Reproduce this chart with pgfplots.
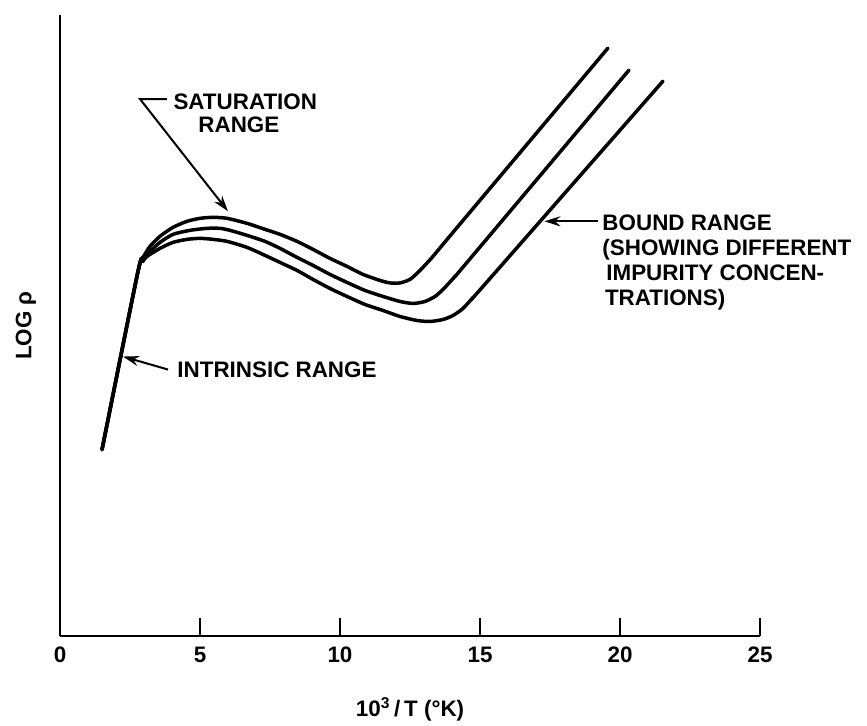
\documentclass[border=0pt]{standalone}
\usepackage{fontspec}
\setmainfont{Liberation Sans}
\usepackage{pgfplots}
\pgfplotsset{compat=1.18}
\usetikzlibrary{arrows.meta}
\tikzset{lbl/.style={font=\bfseries\fontsize{11.2}{13}\selectfont, inner sep=0pt}}
\begin{document}
\begin{tikzpicture}
\useasboundingbox (0,0) rectangle (433.5pt,363pt);
\begin{axis}[
  at={(30pt,45pt)}, anchor=south west,
  scale only axis, width=350pt, height=310.5pt,
  xmin=0, xmax=25, ymin=0, ymax=62,
  axis x line=bottom, axis y line=left,
  axis line style={-, line width=1.4pt},
  xtick={0,5,10,15,20,25}, ytick=\empty,
  tick align=inside, major tick length=9pt,
  tick style={line width=1.4pt, black},
  /pgf/number format/assume math mode=true,
  ticklabel style={font=\bfseries\fontsize{11.2}{13}\selectfont},
  xticklabel style={yshift=-2pt},
  xlabel={10\textsuperscript{3}\,/\,T (°K)},
  ylabel={LOG ρ},
  label style={font=\bfseries\fontsize{11.2}{13}\selectfont},
  xlabel style={at={(axis description cs:0.5,-0.1176)}, anchor=center},
  ylabel style={at={(axis description cs:-0.0486,0.5)}, anchor=center},
  clip=false,
]
% top curve
\addplot[line width=1.75pt, black, line join=round, line cap=round, smooth, tension=0.4] coordinates {
(1.500,18.6) (2.786,36.4) (2.929,37.6) (3.214,38.9) (3.571,39.9) (4.036,40.8)
(4.536,41.4) (5.000,41.7) (5.464,41.8) (5.964,41.7) (6.679,41.2) (7.321,40.6)
(7.857,40.1) (8.464,39.4) (9.036,38.6) (9.643,37.7) (10.250,36.9) (10.821,36.1)
(11.429,35.5) (11.786,35.25) (12.143,35.25) (12.500,35.6) (12.857,36.5) (13.321,37.9)
(14.036,40.3) (19.571,58.7)
};
% middle curve
\addplot[line width=1.75pt, black, line join=round, line cap=round, smooth, tension=0.4] coordinates {
(1.500,18.6) (2.786,36.4) (3.036,37.8) (3.214,38.4) (3.571,39.3) (4.036,40.1)
(4.643,40.5) (5.250,40.7) (5.714,40.7) (6.071,40.5) (6.679,40.0) (7.321,39.4)
(7.857,38.7) (8.464,37.8) (9.036,37.0) (9.643,36.1) (10.250,35.3) (10.893,34.5)
(11.536,33.9) (12.143,33.4) (12.607,33.2) (13.036,33.4) (13.393,33.9) (13.679,34.6)
(14.107,35.9) (14.536,37.3) (20.321,56.5)
};
% bottom curve
\addplot[line width=1.75pt, black, line join=round, line cap=round, smooth, tension=0.4] coordinates {
(1.500,18.6) (2.786,36.4) (2.964,37.4) (3.107,37.9) (3.571,38.7) (4.036,39.3)
(4.536,39.6) (5.000,39.7) (5.464,39.6) (5.964,39.4) (6.679,38.8) (7.321,38.0)
(7.857,37.3) (8.464,36.5) (9.036,35.6) (9.643,34.7) (10.250,33.9) (10.893,33.1)
(11.536,32.5) (12.143,31.9) (12.750,31.5) (13.214,31.4) (13.679,31.6) (14.036,32.0)
(14.393,32.7) (14.750,33.8) (15.107,34.9) (21.536,55.4)
};
% annotations
\draw[line width=1pt, -{Stealth[length=8pt,width=5pt]}] (axis cs:3.82,53.6) -- (axis cs:2.86,53.6) -- (axis cs:6.0,42.4);
\node[lbl, anchor=base west] at (axis cs:4.04,52.6) {SATURATION};
\node[lbl, anchor=base] at (axis cs:6.39,50.3) {RANGE};
\draw[line width=1pt, -{Stealth[length=8pt,width=5pt]}] (axis cs:3.86,26.6) -- (axis cs:2.25,27.9);
\node[lbl, anchor=base west] at (axis cs:4.18,25.8) {INTRINSIC RANGE};
\draw[line width=1pt, -{Stealth[length=8pt,width=5pt]}] (axis cs:19.21,41.4) -- (axis cs:17.3,41.4);
\node[lbl, anchor=base west] at (axis cs:19.36,40.5) {BOUND RANGE};
\node[lbl, anchor=base west] at (axis cs:19.36,38.0) {(SHOWING DIFFERENT};
\node[lbl, anchor=base west] at (axis cs:19.5,35.5) {IMPURITY CONCEN-};
\node[lbl, anchor=base west] at (axis cs:19.45,33.0) {TRATIONS)};
\end{axis}
\end{tikzpicture}
\end{document}
